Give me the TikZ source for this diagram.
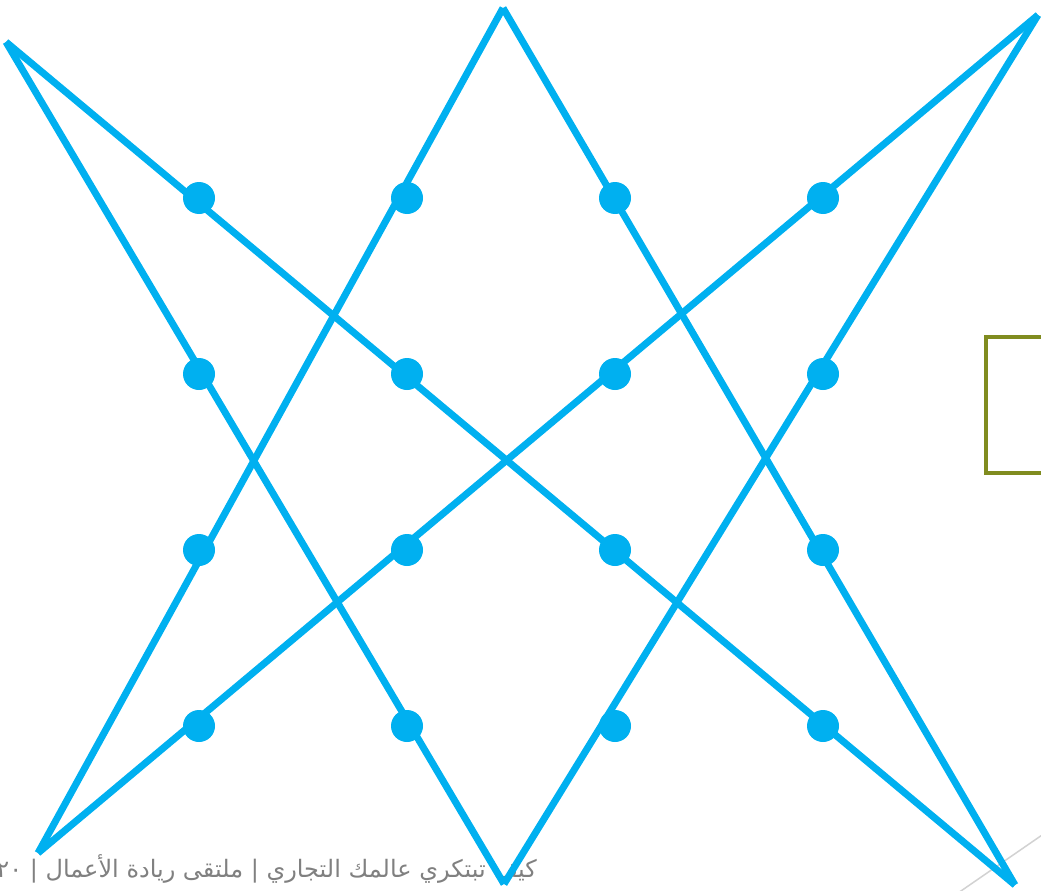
\documentclass[tikz,border=0pt]{standalone}
\usepackage{fontspec}
\newfontfamily\arabicfont[Script=Arabic]{DejaVu Sans}
\TeXXeTstate=1
\definecolor{starblue}{RGB}{0,176,240}
\definecolor{boxolive}{RGB}{128,140,32}
\definecolor{footgray}{RGB}{128,128,128}
\tikzset{
  starline/.style={draw=starblue, line width=7pt, line cap=butt},
  dot/.style={circle, fill=starblue, inner sep=0pt, minimum size=32pt},
  footer/.style={text=footgray, font=\arabicfont\fontsize{24}{28}\selectfont, inner sep=0pt},
}
\begin{document}
\begin{tikzpicture}[x=1pt,y=-1pt]
\useasboundingbox (0,0) rectangle (1041,891);
\clip (0,0) rectangle (1041,891);
% decorative thin line
\coordinate (g1) at (958,893);
\coordinate (g2) at (1045,833);
\draw[gray!35, line width=1.5pt] (g1) -- (g2);
% olive box
\node[draw=boxolive, line width=4pt, minimum width=90pt, minimum height=136pt, anchor=north west, inner sep=0pt] (box) at (984,335) {};
% footer
\node[footer, anchor=base east] (foot) at (537,877) {\beginR كيف تبتكري عالمك التجاري | ملتقى ريادة الأعمال | \beginL ٢٠\endL\endR};
% star vertices
\coordinate (A) at (6,42);
\coordinate (B) at (503,8);
\coordinate (C) at (1038,15);
\coordinate (D) at (38,853);
\coordinate (E) at (504,884);
\coordinate (F) at (1015,885);
\draw[starline] (A) -- (F);
\draw[starline] (A) -- (E);
\draw[starline] (B) -- (D);
\draw[starline] (B) -- (F);
\draw[starline] (C) -- (D);
\draw[starline] (C) -- (E);
% dots
\foreach \i/\x in {1/199,2/407,3/615,4/823}{
  \foreach \j/\y in {1/198,2/374,3/550,4/726}{
    \node[dot] (d\i\j) at (\x,\y) {};
  }
}
\end{tikzpicture}
\end{document}
